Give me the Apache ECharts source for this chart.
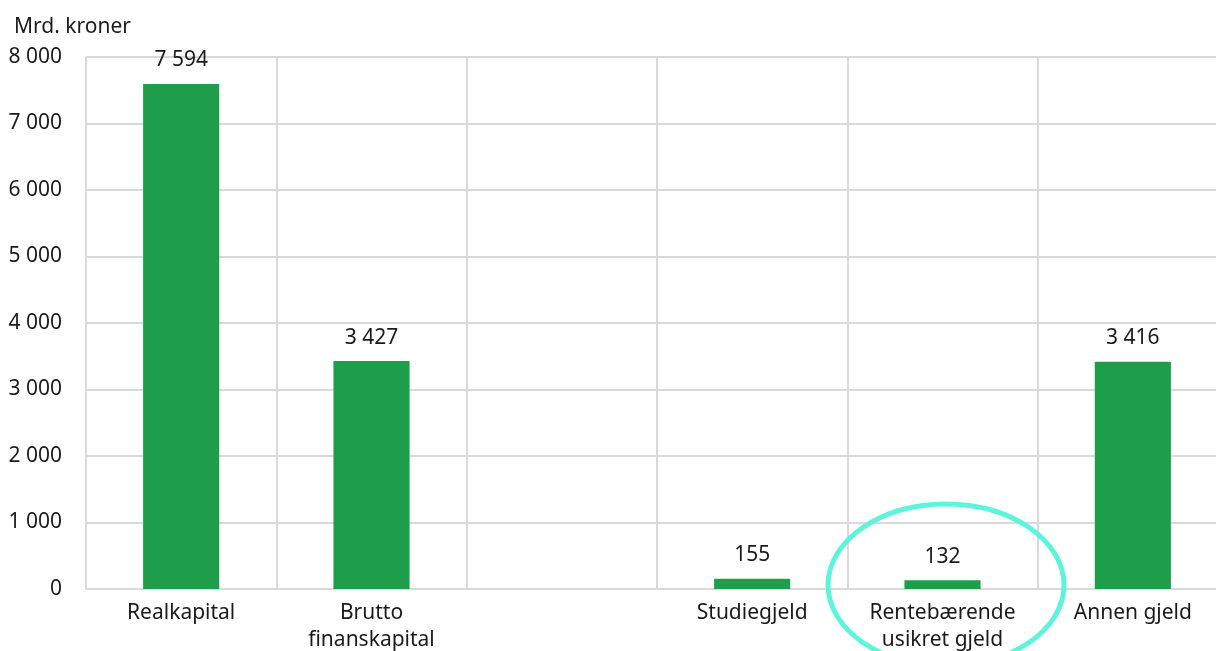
<!DOCTYPE html>
<html>
<head>
<meta charset="utf-8">
<script src="https://cdn.jsdelivr.net/npm/echarts@6/dist/echarts.min.js"></script>
<style>
  html, body { margin: 0; padding: 0; background: #fff; overflow: hidden; }
  /* canvas is a bit wider than the window; the last column runs off the right edge */
  #chart { width: 1228px; height: 651px; }
</style>
</head>
<body>
<div id="chart"></div>
<script>
// Husholdningenes formue og gjeld, mrd. kroner
const categories = ['Realkapital', 'Brutto\nfinanskapital', '', 'Studiegjeld', 'Rentebærende\nusikret gjeld', 'Annen gjeld'];
const values = [7594, 3427, null, 155, 132, 3416];
const yTicks = { min: 0, max: 8000, interval: 1000 };
const unitLabel = 'Mrd. kroner';

const fmt = v => String(Math.round(v)).replace(/\B(?=(\d{3})+(?!\d))/g, '\u00a0');

const chart = echarts.init(document.getElementById('chart'), null, { renderer: 'canvas' });
const font = '"Noto Sans", "Open Sans", sans-serif';
const gridColor = '#d9d9d9';
const textColor = '#1a1a1a';
const fs = 21;

chart.setOption({
  animation: false,
  backgroundColor: '#ffffff',
  textStyle: { fontFamily: font },
  grid: { left: 86, top: 57, right: 0, bottom: 62, containLabel: false, outerBoundsMode: 'none' },
  title: {
    text: unitLabel, left: 9, top: 12,
    textStyle: { fontFamily: font, fontSize: fs, fontWeight: 'normal', color: textColor }
  },
  xAxis: {
    type: 'category',
    data: categories,
    boundaryGap: true,
    axisLine: { show: true, lineStyle: { color: gridColor, width: 2 } },
    axisTick: { show: false },
    splitLine: { show: true, lineStyle: { color: gridColor, width: 2 } },
    axisLabel: {
      interval: 0, margin: 11, color: textColor, fontFamily: font, fontSize: fs, lineHeight: 27
    }
  },
  yAxis: {
    type: 'value',
    min: yTicks.min, max: yTicks.max, interval: yTicks.interval,
    axisLine: { show: false },
    axisTick: { show: false },
    splitLine: { show: true, lineStyle: { color: gridColor, width: 2 } },
    axisLabel: { margin: 24, color: textColor, fontFamily: font, fontSize: fs, formatter: fmt }
  },
  series: [{
    type: 'bar',
    data: values,
    barWidth: '40%',
    itemStyle: { color: '#1e9e4a' },
    label: {
      show: true, position: 'top', distance: 13,
      color: textColor, fontFamily: font, fontSize: fs,
      formatter: p => fmt(p.value)
    }
  }],
  graphic: [{
    type: 'ellipse',
    shape: { cx: 946, cy: 585, rx: 118, ry: 81 },
    style: { fill: 'none', stroke: '#5cf5dc', lineWidth: 5 },
    z: 100
  }]
});
</script>
</body>
</html>
